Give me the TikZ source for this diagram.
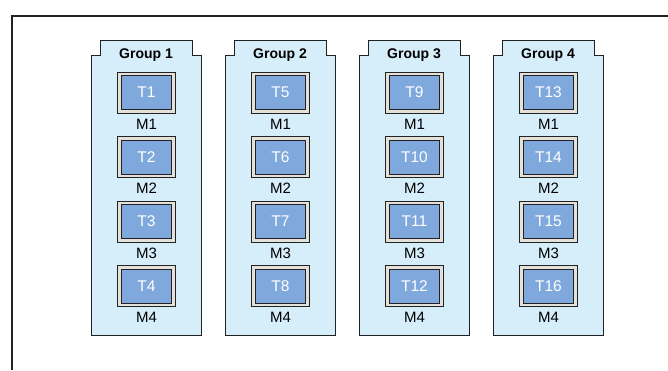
\documentclass[tikz,border=0pt]{standalone}
\usepackage{fontspec}
\setmainfont{Liberation Sans}
\usetikzlibrary{positioning}

\definecolor{grpfill}{HTML}{D6EDFA}
\definecolor{taskfill}{HTML}{7FA8DC}
\definecolor{bandcol}{HTML}{E4E0DA}
\definecolor{linecol}{HTML}{222222}

\tikzset{
    group/.style={draw=linecol, line width=0.9pt, fill=grpfill},
    grouplabel/.style={font=\bfseries\fontsize{14}{16}\selectfont, anchor=base, inner sep=0pt},
    task/.style={draw=linecol, line width=0.8pt, fill=bandcol,
        minimum width=58pt, minimum height=41pt, inner sep=0pt,
        text=white, font=\fontsize{15.5}{17}\selectfont,
        path picture={\draw[linecol, line width=0.8pt, fill=taskfill]
            ([shift={(4pt,-3.5pt)}]path picture bounding box.north west) rectangle
            ([shift={(-4pt,3.5pt)}]path picture bounding box.south east);}},
    mlabel/.style={font=\fontsize{15}{17}\selectfont, anchor=base, inner sep=0pt},
}

\begin{document}
\begin{tikzpicture}[x=1pt, y=-1pt]

    \useasboundingbox (0,0) rectangle (668,370);

    % frame
    \draw[linecol, line width=1.2pt] (668,16) -- (12,16) -- (12,370);

    % groups
    \draw[group] (91,335) -- (91,55) -- (100,55) -- (100,40) -- (192,40) -- (192,55) -- (201,55) -- (201,335) -- cycle; % Group 1
    \draw[group] (225,335) -- (225,55) -- (234,55) -- (234,40) -- (326,40) -- (326,55) -- (335,55) -- (335,335) -- cycle; % Group 2
    \draw[group] (359,335) -- (359,55) -- (368,55) -- (368,40) -- (460,40) -- (460,55) -- (469,55) -- (469,335) -- cycle; % Group 3
    \draw[group] (493,335) -- (493,55) -- (502,55) -- (502,40) -- (594,40) -- (594,55) -- (603,55) -- (603,335) -- cycle; % Group 4

    \node[grouplabel] at (146,58) (g1) {Group 1};
    \node[grouplabel] at (280,58) (g2) {Group 2};
    \node[grouplabel] at (414,58) (g3) {Group 3};
    \node[grouplabel] at (548,58) (g4) {Group 4};

    % tasks
    \node[task] at (146.5,92.5) (t1) {T1};
    \node[task] at (146.5,157) (t2) {T2};
    \node[task] at (146.5,221.5) (t3) {T3};
    \node[task] at (146.5,286) (t4) {T4};
    \node[task] at (280.5,92.5) (t5) {T5};
    \node[task] at (280.5,157) (t6) {T6};
    \node[task] at (280.5,221.5) (t7) {T7};
    \node[task] at (280.5,286) (t8) {T8};
    \node[task] at (414.5,92.5) (t9) {T9};
    \node[task] at (414.5,157) (t10) {T10};
    \node[task] at (414.5,221.5) (t11) {T11};
    \node[task] at (414.5,286) (t12) {T12};
    \node[task] at (548.5,92.5) (t13) {T13};
    \node[task] at (548.5,157) (t14) {T14};
    \node[task] at (548.5,221.5) (t15) {T15};
    \node[task] at (548.5,286) (t16) {T16};

    % machines
    \node[mlabel] at (146.5,129) (m1) {M1};
    \node[mlabel] at (146.5,193.5) (m2) {M2};
    \node[mlabel] at (146.5,258) (m3) {M3};
    \node[mlabel] at (146.5,322.5) (m4) {M4};
    \node[mlabel] at (280.5,129) (m5) {M1};
    \node[mlabel] at (280.5,193.5) (m6) {M2};
    \node[mlabel] at (280.5,258) (m7) {M3};
    \node[mlabel] at (280.5,322.5) (m8) {M4};
    \node[mlabel] at (414.5,129) (m9) {M1};
    \node[mlabel] at (414.5,193.5) (m10) {M2};
    \node[mlabel] at (414.5,258) (m11) {M3};
    \node[mlabel] at (414.5,322.5) (m12) {M4};
    \node[mlabel] at (548.5,129) (m13) {M1};
    \node[mlabel] at (548.5,193.5) (m14) {M2};
    \node[mlabel] at (548.5,258) (m15) {M3};
    \node[mlabel] at (548.5,322.5) (m16) {M4};

\end{tikzpicture}
\end{document}
